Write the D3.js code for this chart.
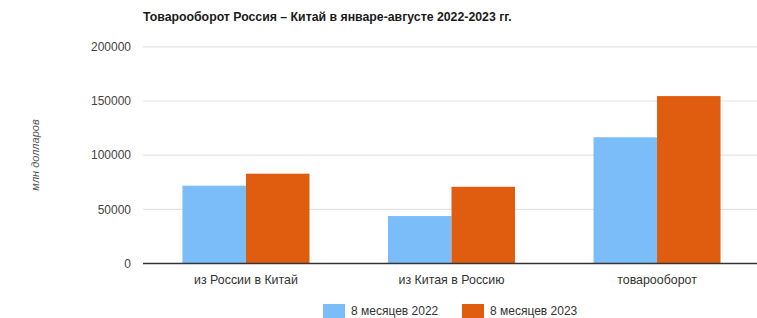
<!DOCTYPE html>
<html><head><meta charset="utf-8">
<script src="https://cdn.jsdelivr.net/npm/d3@7"></script>
<style>body{margin:0;background:#fff;}svg{display:block;}</style>
</head><body>
<svg id="c" width="757" height="318"></svg>
<script>
const categories = ["из России в Китай", "из Китая в Россию", "товарооборот"];
const seriesNames = ["8 месяцев 2022", "8 месяцев 2023"];
const values2022 = [71800, 43800, 116500];
const values2023 = [82900, 70800, 154500];
const yTicks = [0, 50000, 100000, 150000, 200000];
const colors = ["#7BBDF8", "#E05C0E"];

const svg = d3.select("#c");
const font = "'Liberation Sans', Arial, sans-serif";
const x0 = d3.scaleBand().domain(categories).range([143, 760]).paddingInner(0.382).paddingOuter(0.192);
const x1 = d3.scaleBand().domain(seriesNames).range([0, x0.bandwidth()]);
const y = d3.scaleLinear().domain([0, 200000]).range([263.5, 46.8]);

// gridlines
svg.append("g").selectAll("line").data(yTicks.slice(1)).join("line")
  .attr("x1", 143).attr("x2", 757)
  .attr("y1", d => y(d)).attr("y2", d => y(d))
  .attr("stroke", "#e3e3e3").attr("stroke-width", 1.2);

// y labels
svg.append("g").selectAll("text").data(yTicks).join("text")
  .attr("x", 131).attr("y", d => y(d)).attr("dy", "0.36em")
  .attr("text-anchor", "end").attr("font-family", font).attr("font-size", 12)
  .attr("fill", "#444").text(d => d);

// bars
const data = categories.map((c, i) => ({c, vals: [values2022[i], values2023[i]]}));
svg.append("g").selectAll("g").data(data).join("g")
  .attr("transform", d => `translate(${x0(d.c)},0)`)
  .selectAll("rect").data(d => d.vals.map((v, j) => ({s: seriesNames[j], v, j}))).join("rect")
  .attr("x", d => x1(d.s)).attr("width", x1.bandwidth())
  .attr("y", d => y(d.v)).attr("height", d => y(0) - y(d.v))
  .attr("fill", d => colors[d.j]);

// baseline
svg.append("line").attr("x1", 143).attr("x2", 757).attr("y1", y(0)).attr("y2", y(0))
  .attr("stroke", "#333").attr("stroke-width", 1.3);

// category labels
svg.append("g").selectAll("text").data(categories).join("text")
  .attr("x", d => x0(d) + x0.bandwidth() / 2).attr("y", 284)
  .attr("text-anchor", "middle").attr("font-family", font).attr("font-size", 12.4)
  .attr("fill", "#333").text(d => d);

// title
svg.append("text").attr("x", 143).attr("y", 21)
  .attr("font-family", font).attr("font-size", 12.3).attr("font-weight", "bold")
  .attr("fill", "#1a1a1a").text("Товарооборот Россия – Китай в январе-августе 2022-2023 гг.");

// y axis title
svg.append("text").attr("transform", "translate(39,155) rotate(-90)")
  .attr("text-anchor", "middle").attr("font-family", font).attr("font-size", 11)
  .attr("font-style", "italic").attr("fill", "#555").text("млн долларов");

// legend
const legendX = [323, 462];
const lg = svg.append("g").selectAll("g").data(seriesNames).join("g")
  .attr("transform", (d, i) => `translate(${legendX[i]},0)`);
lg.append("rect").attr("x", 0).attr("y", 304).attr("width", 22).attr("height", 14)
  .attr("fill", (d, i) => colors[i]);
lg.append("text").attr("x", 28).attr("y", 311).attr("dy", "0.36em")
  .attr("font-family", font).attr("font-size", 12).attr("fill", "#333").text(d => d);
</script>
</body></html>
